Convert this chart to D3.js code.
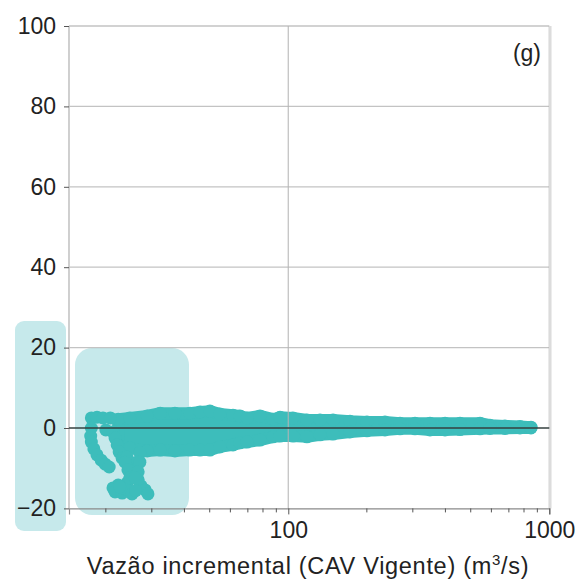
<!DOCTYPE html>
<html>
<head>
<meta charset="utf-8">
<script src="https://cdn.jsdelivr.net/npm/d3@7"></script>
<style>
  html, body { margin: 0; padding: 0; background: #fff; }
  svg { display: block; font-family: "Liberation Sans", Arial, sans-serif; }
</style>
</head>
<body>
<svg id="chart" width="581" height="579"></svg>
<script>
// Dense part of the cloud: upper and lower extremes of the error per flow value
const flowBand = [22.3, 24.7, 28.8, 32.3, 36.8, 42.0, 45.9, 50.1, 54.7, 61.4, 65.3, 69.5, 77.9, 87.4, 93.0,
  104.2, 117.9, 132.3, 148.4, 172.4, 200.2, 234.7, 267.9, 305.8, 349.1, 398.6, 454.9, 542.7, 592.7, 676.6, 772.3, 851.0];
const errHigh = [2.2, 2.5, 3.0, 3.7, 3.7, 3.7, 4.0, 4.2, 3.5, 3.2, 3.0, 2.5, 3.0, 2.2, 2.7,
  2.5, 2.0, 2.0, 2.0, 1.7, 1.5, 1.5, 1.2, 1.2, 1.2, 1.2, 1.2, 1.2, 0.7, 0.5, 0.4, 0.2];
const errLow = [-4.2, -5.0, -5.7, -5.5, -5.7, -5.5, -5.5, -5.5, -4.7, -4.2, -3.7, -3.5, -3.0, -2.2, -2.0,
  -2.0, -2.2, -1.7, -1.5, -1.0, -0.7, -0.5, -0.2, -0.2, -0.5, -0.5, -0.4, -0.2, -0.1, -0.1, 0.0, 0.0];

// Sparse points at the low-flow end
const flowScatter = [17.6, 18.5, 19.5, 20.8, 20.0, 17.6, 17.5, 17.6, 18.0, 18.5, 19.2, 19.9, 20.6,
  21.3, 21.7, 22.1, 22.5, 23.1, 24.1, 27.0, 26.3, 25.4, 25.0, 24.1, 22.3, 21.3, 21.7, 23.1, 23.9,
  25.2, 26.6, 27.3, 28.3, 29.0, 23.7, 27.0, 24.3, 26.6, 24.7, 25.9, 26.0, 22.6];
const errScatter = [2.5, 2.7, 2.5, 2.5, -0.5, 0.0, -2.0, -3.5, -5.2, -6.7, -8.0, -9.0, -9.7,
  -1.0, -2.5, -4.2, -6.0, -7.5, -7.2, -6.2, -8.5, -10.4, -12.2, -13.7, -14.2, -14.9, -15.9, -16.2, -15.2,
  -16.4, -12.9, -14.4, -15.4, -16.4, -8.5, -8.5, -10.4, -10.9, -12.4, -12.4, -15.6, -14.6];

const yTicks = [-20, 0, 20, 40, 60, 80, 100];
const xTicks = [100, 1000];
const xMinorTicks = [20, 30, 40, 50, 60, 70, 80, 90, 200, 300, 400, 500, 600, 700, 800, 900];
const xTitle = "Vazão incremental (CAV Vigente) (m";
const panelTag = "(g)";

const svg = d3.select("#chart");
const R = 6.5;
const dotColor = "#3dbdbb";

const x = d3.scaleLog().domain([14.45, 1000]).range([69, 549.3]);
const y = d3.scaleLinear().domain([-20, 100]).range([508.4, 26]);
const [x0, x1] = x.range();
const [yb, yt] = y.range();

// highlight boxes behind the axes
svg.append("rect").attr("x", 15).attr("y", 321).attr("width", 51).attr("height", 210)
  .attr("rx", 9).attr("fill", "#c6e9eb");
svg.append("rect").attr("x", 75).attr("y", 348).attr("width", 114).attr("height", 167)
  .attr("rx", 17).attr("fill", "#c6e9eb");

// cloud of points
const bandPts = flowBand.map((f, i) => [x(f), y(errHigh[i])])
  .concat(flowBand.map((f, i) => [x(f), y(errLow[i])]).reverse());
svg.append("path")
  .attr("d", d3.line()(bandPts) + "Z")
  .attr("fill", dotColor).attr("stroke", dotColor)
  .attr("stroke-width", 2 * R - 1).attr("stroke-linejoin", "round");

const edgePts = flowBand.flatMap((f, i) => [[f, errHigh[i]], [f, errLow[i]]]);
svg.append("g").selectAll("circle").data(edgePts).join("circle")
  .attr("cx", d => x(d[0])).attr("cy", d => y(d[1])).attr("r", R).attr("fill", dotColor);
svg.append("g").selectAll("circle").data(flowScatter.map((f, i) => [f, errScatter[i]])).join("circle")
  .attr("cx", d => x(d[0])).attr("cy", d => y(d[1])).attr("r", R).attr("fill", dotColor);

// grid
const grid = svg.append("g").attr("stroke", "#b4b4b4").attr("stroke-opacity", 0.8).attr("stroke-width", 1.3);
grid.selectAll("line.h").data(yTicks.filter(v => v !== 0 && v !== -20)).join("line")
  .attr("x1", x0).attr("x2", x1).attr("y1", d => y(d)).attr("y2", d => y(d));
grid.selectAll("line.v").data(xTicks).join("line")
  .attr("x1", d => x(d)).attr("x2", d => x(d)).attr("y1", yt).attr("y2", yb);

// frame
svg.append("line").attr("x1", x0).attr("x2", x0).attr("y1", yt).attr("y2", yb)
  .attr("stroke", "#c4c4c4").attr("stroke-width", 1.6);
svg.append("line").attr("x1", x1 + 1).attr("x2", x1 + 1).attr("y1", yt).attr("y2", yb)
  .attr("stroke", "#dcdcdc").attr("stroke-width", 2.5);

// zero reference line
svg.append("line").attr("x1", x0).attr("x2", x1).attr("y1", y(0)).attr("y2", y(0))
  .attr("stroke", "#34403f").attr("stroke-width", 1.3);

// y axis
const yAxis = svg.append("g").attr("transform", `translate(${x0},0)`)
  .call(d3.axisLeft(y).tickValues(yTicks).tickSize(5).tickPadding(8).tickFormat(d => d < 0 ? "\u2212" + Math.abs(d) : d));
yAxis.select(".domain").remove();
yAxis.selectAll(".tick line").attr("stroke", "#555").attr("stroke-width", 1);
yAxis.selectAll("text").attr("font-size", 23).attr("fill", "#222")
  .attr("font-family", "Liberation Sans, Arial, sans-serif");

// x axis
const xAxis = svg.append("g").attr("transform", `translate(0,${yb})`)
  .call(d3.axisBottom(x).tickValues(xTicks).tickSize(6).tickPadding(7).tickFormat(d3.format("d")));
xAxis.select(".domain").attr("stroke", "#8a8a8a").attr("stroke-width", 1.2);
xAxis.selectAll(".tick line").attr("stroke", "#555");
xAxis.selectAll("text").attr("font-size", 23).attr("fill", "#222")
  .attr("font-family", "Liberation Sans, Arial, sans-serif");
svg.append("g").attr("transform", `translate(0,${yb})`).selectAll("line").data(xMinorTicks).join("line")
  .attr("x1", d => x(d)).attr("x2", d => x(d)).attr("y1", 0).attr("y2", 4)
  .attr("stroke", "#555").attr("stroke-width", 1);

// x axis title
const title = svg.append("text").attr("x", 308).attr("y", 574).attr("text-anchor", "middle")
  .attr("font-size", 23.5).attr("letter-spacing", 0.7).attr("fill", "#222");
title.append("tspan").text(xTitle);
title.append("tspan").attr("font-size", 15).attr("dy", -9).text("3");
title.append("tspan").attr("dy", 9).text("/s)");

// panel tag
svg.append("text").attr("x", 541).attr("y", 61).attr("text-anchor", "end")
  .attr("font-size", 23).attr("fill", "#222").text(panelTag);
</script>
</body>
</html>
